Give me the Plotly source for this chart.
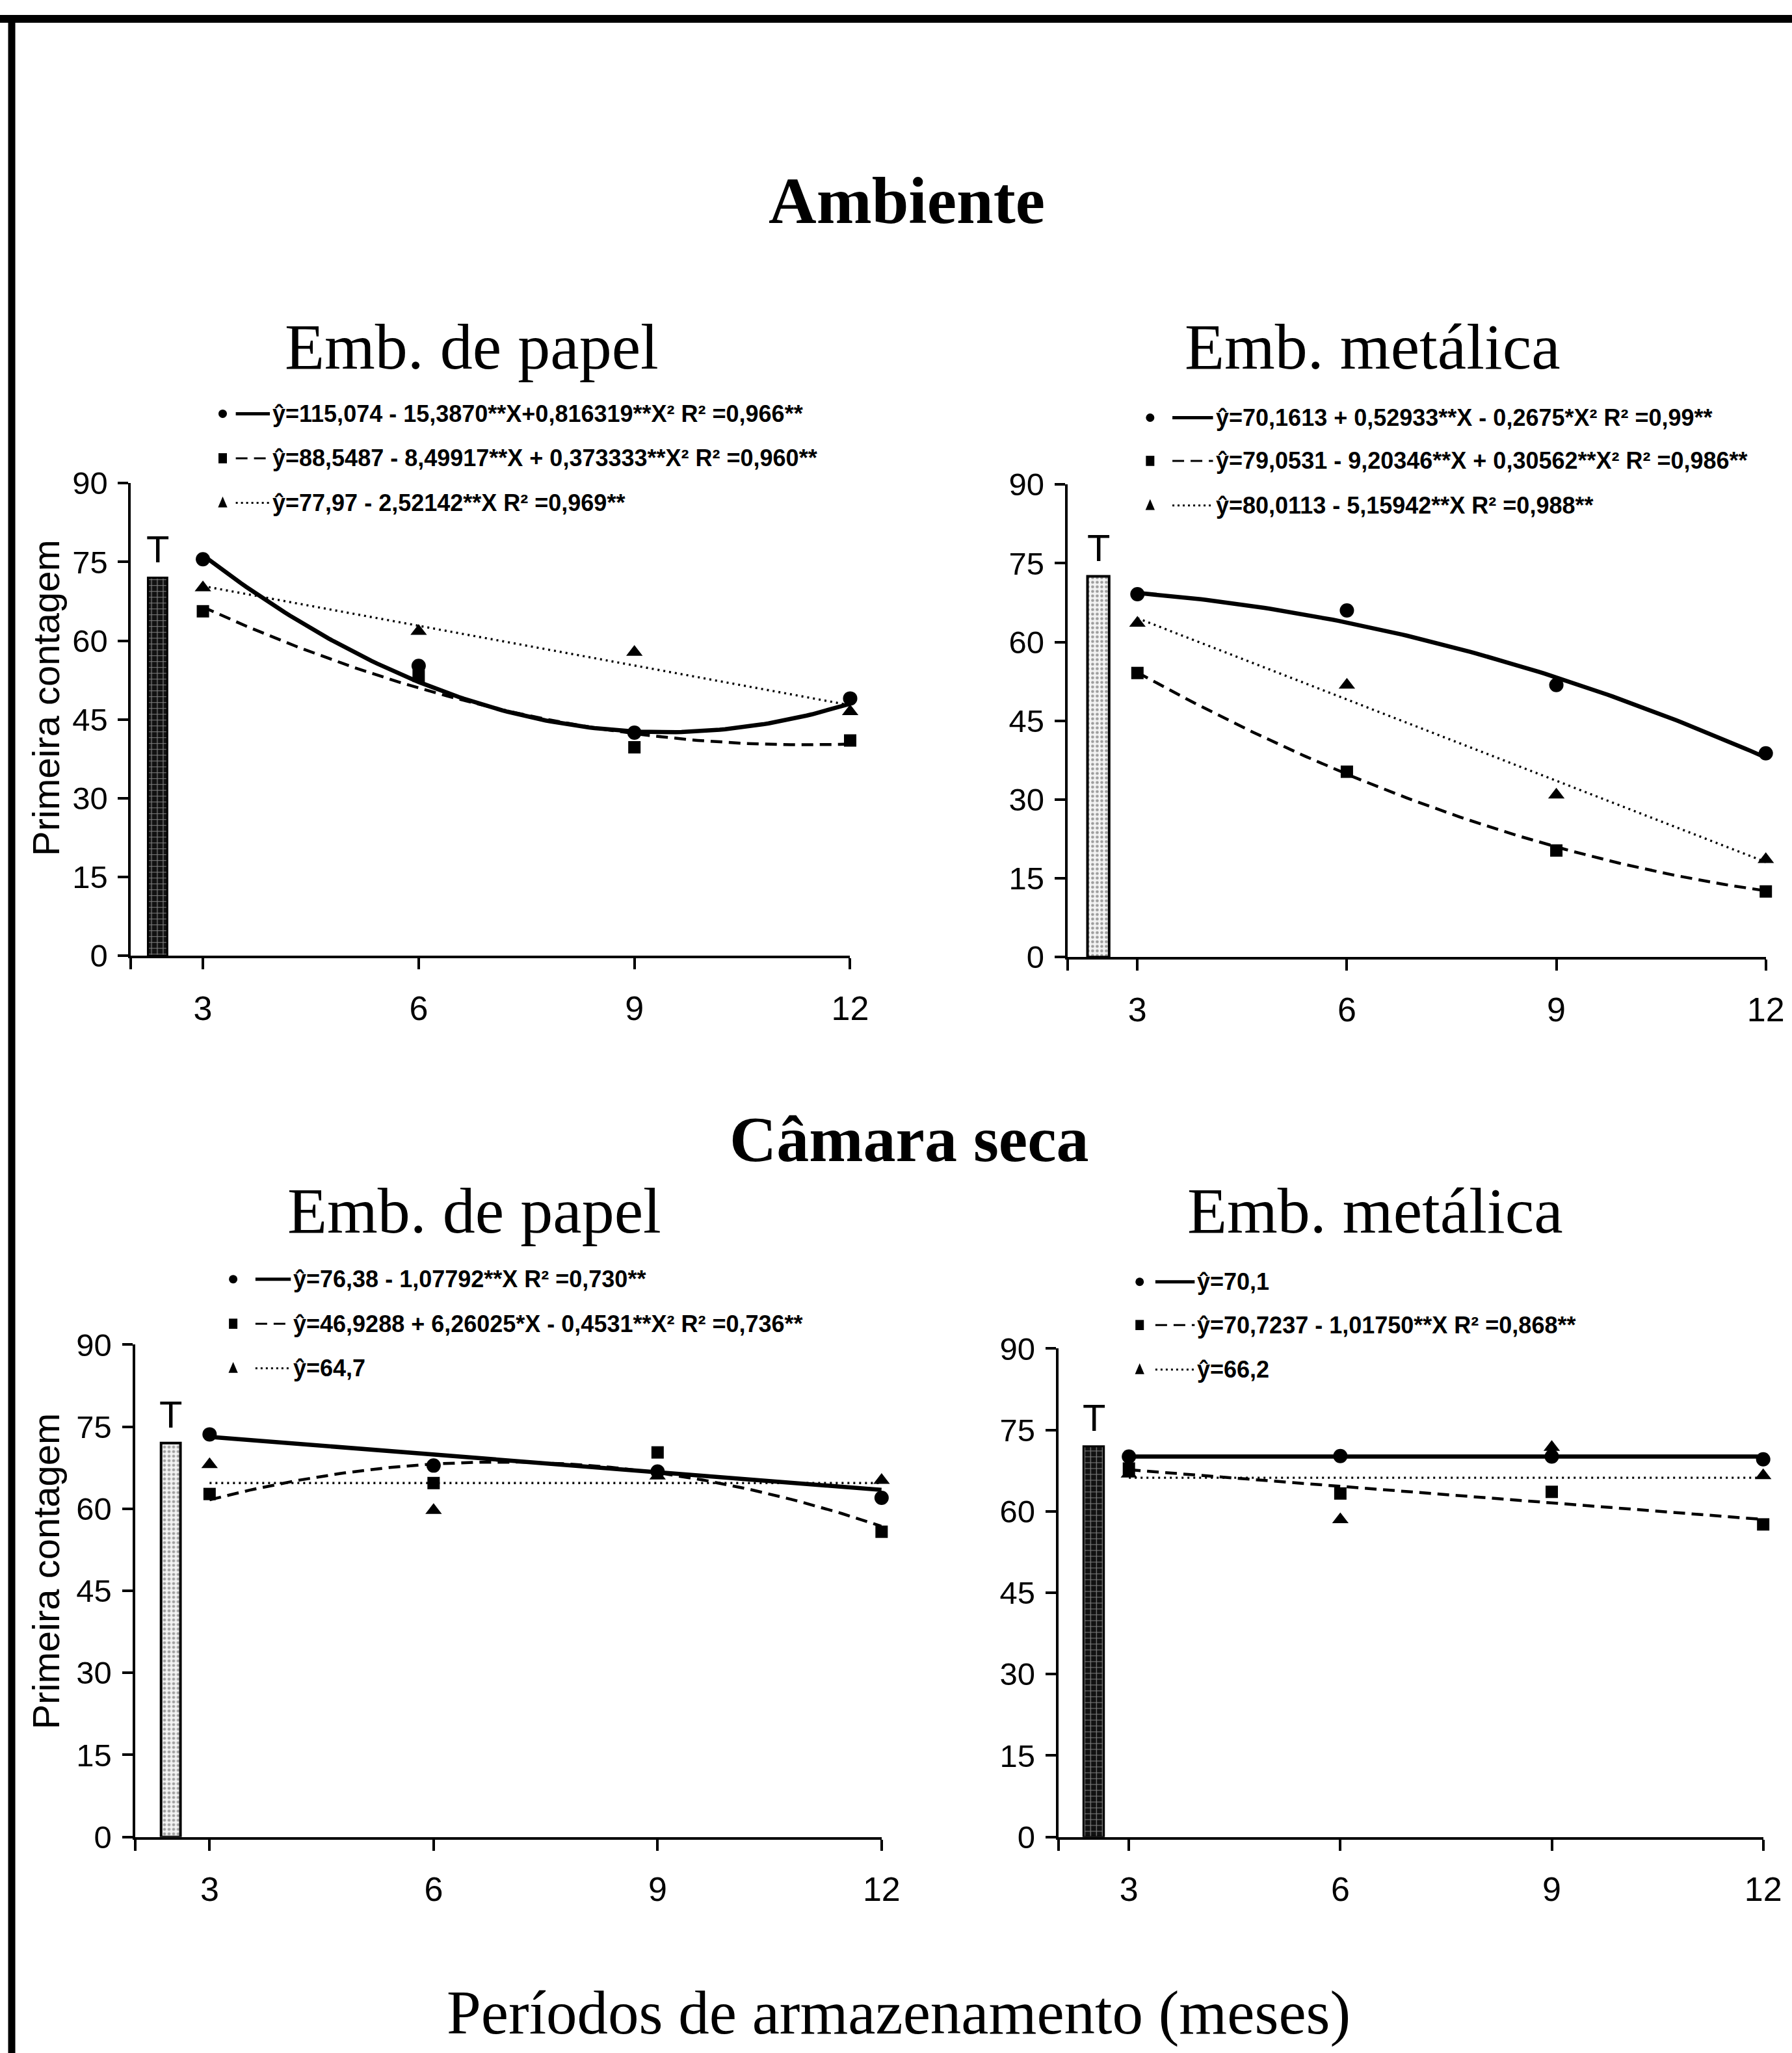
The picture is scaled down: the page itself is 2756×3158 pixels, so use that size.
import numpy as np
import plotly.graph_objects as go

# ---------------- data ----------------
months = [3, 6, 9, 12]
tick_vals_x = [2, 3, 6, 9, 12]
tick_text_x = ["", "3", "6", "9", "12"]
tick_vals_y = [0, 15, 30, 45, 60, 75, 90]

# Ambiente - Emb. de papel
amb_pap_circ = [75.5, 55.2, 42.5, 49.0]
amb_pap_squa = [65.6, 53.3, 39.7, 41.0]
amb_pap_tri = [70.1, 61.8, 57.8, 46.5]
amb_pap_fit_circ = [115.074, -15.3870, 0.816319]
amb_pap_fit_squa = [88.5487, -8.49917, 0.373333]
amb_pap_fit_tri = [77.97, -2.52142]
amb_pap_T = 72.0

# Ambiente - Emb. metalica
amb_met_circ = [69.1, 66.0, 51.8, 38.8]
amb_met_squa = [54.1, 35.3, 20.3, 12.5]
amb_met_tri = [63.6, 51.8, 30.9, 18.6]
amb_met_fit_circ = [70.1613, 0.52933, -0.2675]
amb_met_fit_squa = [79.0531, -9.20346, 0.30562]
amb_met_fit_tri = [80.0113, -5.15942]
amb_met_T = 72.5

# Camara seca - Emb. de papel
cam_pap_circ = [73.6, 67.9, 66.8, 62.0]
cam_pap_squa = [62.7, 64.7, 70.3, 55.8]
cam_pap_tri = [68.1, 59.7, 66.0, 65.2]
cam_pap_fit_circ = [76.38, -1.07792]
cam_pap_fit_squa = [46.9288, 6.26025, -0.4531]
cam_pap_fit_tri = [64.7]
cam_pap_T = 72.0

# Camara seca - Emb. metalica
cam_met_circ = [70.1, 70.2, 70.1, 69.6]
cam_met_squa = [67.9, 63.3, 63.6, 57.6]
cam_met_tri = [66.9, 58.5, 71.8, 66.6]
cam_met_fit_circ = [70.1]
cam_met_fit_squa = [70.7237, -1.01750]
cam_met_fit_tri = [66.2]
cam_met_T = 72.0

legend_amb_pap = ["ŷ=115,074 - 15,3870**X+0,816319**X² R² =0,966**",
                  "ŷ=88,5487 - 8,49917**X + 0,373333**X² R² =0,960**",
                  "ŷ=77,97 - 2,52142**X R² =0,969**"]
legend_amb_met = ["ŷ=70,1613 + 0,52933**X - 0,2675*X² R² =0,99**",
                  "ŷ=79,0531 - 9,20346**X + 0,30562**X² R² =0,986**",
                  "ŷ=80,0113 - 5,15942**X R² =0,988**"]
legend_cam_pap = ["ŷ=76,38 - 1,07792**X R² =0,730**",
                  "ŷ=46,9288 + 6,26025*X - 0,4531**X² R² =0,736**",
                  "ŷ=64,7"]
legend_cam_met = ["ŷ=70,1",
                  "ŷ=70,7237 - 1,01750**X R² =0,868**",
                  "ŷ=66,2"]

# ---------------- layout helpers ----------------
W, H = 2756, 3158
OW, OH = 1368.0, 1568.0  # working reference frame


def px(x):
    return x / OW


def py(y):
    return 1 - y / OH


SERIF = "Liberation Serif, Times New Roman, serif"
SANS = "Liberation Sans, Arial, sans-serif"

panels = [
    dict(circ=amb_pap_circ, squa=amb_pap_squa, tri=amb_pap_tri,
         fc=amb_pap_fit_circ, fs=amb_pap_fit_squa, ft=amb_pap_fit_tri,
         T=amb_pap_T, Tx=2.37, Tw=0.27, dark=True,
         xdom=[px(100), px(649)], ydom=[py(730), py(369)],
         leg=legend_amb_pap, lx=(170, 180, 206, 207), ly=(316, 350, 384)),
    dict(circ=amb_met_circ, squa=amb_met_squa, tri=amb_met_tri,
         fc=amb_met_fit_circ, fs=amb_met_fit_squa, ft=amb_met_fit_tri,
         T=amb_met_T, Tx=2.44, Tw=0.31, dark=False,
         xdom=[px(815), px(1348)], ydom=[py(731), py(370)],
         leg=legend_amb_met, lx=(878, 895, 926, 927), ly=(319, 352, 386)),
    dict(circ=cam_pap_circ, squa=cam_pap_squa, tri=cam_pap_tri,
         fc=cam_pap_fit_circ, fs=cam_pap_fit_squa, ft=cam_pap_fit_tri,
         T=cam_pap_T, Tx=2.48, Tw=0.26, dark=False,
         xdom=[px(103), px(673)], ydom=[py(1403), py(1027)],
         leg=legend_cam_pap, lx=(178, 195, 222, 223), ly=(977, 1011, 1045)),
    dict(circ=cam_met_circ, squa=cam_met_squa, tri=cam_met_tri,
         fc=cam_met_fit_circ, fs=cam_met_fit_squa, ft=cam_met_fit_tri,
         T=cam_met_T, Tx=2.5, Tw=0.29, dark=True,
         xdom=[px(808), px(1346)], ydom=[py(1403), py(1030)],
         leg=legend_cam_met, lx=(870, 882, 912, 913), ly=(979, 1012, 1046)),
]

fig = go.Figure()
layout = dict(
    width=W, height=H, autosize=False,
    margin=dict(l=0, r=0, t=0, b=0, pad=0, autoexpand=False),
    paper_bgcolor="white", plot_bgcolor="white",
    showlegend=False,
)
annotations = []
shapes = []

xfine = np.linspace(3, 12, 120)
styles = [
    ("circle", "solid", 6.5, 22),
    ("square", "dash", 4.5, 19),
    ("triangle-up", "dot", 3.4, 22),
]
dash_map = {"solid": "solid", "dash": "18px,10px", "dot": "3px,6px"}

for i, p in enumerate(panels, start=1):
    xa = "x" if i == 1 else f"x{i}"
    ya = "y" if i == 1 else f"y{i}"
    xkey = "xaxis" if i == 1 else f"xaxis{i}"
    ykey = "yaxis" if i == 1 else f"yaxis{i}"

    # T bar
    if p["dark"]:
        mk = dict(color="#111111",
                  pattern=dict(shape="+", bgcolor="#111111", fgcolor="#f0f0f0",
                               size=9, solidity=0.25),
                  line=dict(color="black", width=3))
    else:
        mk = dict(color="white",
                  pattern=dict(shape=".", bgcolor="#f4f4f4", fgcolor="#444444",
                               size=7, solidity=0.35),
                  line=dict(color="black", width=4))
    fig.add_trace(go.Bar(x=[p["Tx"]], y=[p["T"]], width=[p["Tw"]], marker=mk,
                         cliponaxis=False, xaxis=xa, yaxis=ya))
    annotations.append(dict(text="T", xref=xa, yref=ya, x=p["Tx"], y=p["T"],
                            xanchor="center", yanchor="bottom", yshift=10,
                            showarrow=False,
                            font=dict(family=SANS, size=58, color="black")))

    series = [(p["circ"], p["fc"]), (p["squa"], p["fs"]), (p["tri"], p["ft"])]
    for (vals, coefs), (sym, dsh, lw, ms) in zip(series, styles):
        yfit = np.polynomial.polynomial.polyval(xfine, coefs)
        fig.add_trace(go.Scatter(x=xfine, y=yfit, mode="lines",
                                 line=dict(color="black", width=lw, dash=dash_map[dsh]),
                                 xaxis=xa, yaxis=ya, cliponaxis=False))
        fig.add_trace(go.Scatter(x=months, y=vals, mode="markers",
                                 marker=dict(symbol=sym, size=ms, color="black"),
                                 xaxis=xa, yaxis=ya, cliponaxis=False))

    layout[xkey] = dict(domain=p["xdom"], range=[2, 12], anchor=ya,
                        tickvals=tick_vals_x, ticktext=tick_text_x,
                        ticks="outside", ticklen=17, tickwidth=4, tickcolor="black",
                        showline=True, linewidth=4, linecolor="black",
                        showgrid=False, zeroline=False, ticklabelstandoff=15,
                        automargin=False,
                        tickfont=dict(family=SANS, size=52, color="black"))
    layout[ykey] = dict(domain=p["ydom"], range=[0, 90], anchor=xa,
                        tickvals=tick_vals_y,
                        ticks="outside", ticklen=16, tickwidth=4, tickcolor="black",
                        showline=True, linewidth=4, linecolor="black",
                        showgrid=False, zeroline=False, ticklabelstandoff=6,
                        automargin=False,
                        tickfont=dict(family=SANS, size=49, color="black"))

    # legend block
    mx, l0, l1, tx = p["lx"]
    for (sym, dsh, lw, ms), yy, txt in zip(styles, p["ly"], p["leg"]):
        cx, cy = px(mx), py(yy)
        rx, ry = 6.5 / W, 6.5 / H
        if sym == "circle":
            shapes.append(dict(type="circle", xref="paper", yref="paper",
                               x0=cx - rx, x1=cx + rx, y0=cy - ry, y1=cy + ry,
                               fillcolor="black", line=dict(width=0)))
        elif sym == "square":
            shapes.append(dict(type="rect", xref="paper", yref="paper",
                               x0=cx - rx, x1=cx + rx, y0=cy - ry * 1.2, y1=cy + ry * 1.2,
                               fillcolor="black", line=dict(width=0)))
        else:
            shapes.append(dict(type="path", xref="paper", yref="paper",
                               path=f"M {cx - rx*1.1} {cy - ry*1.1} L {cx + rx*1.1} {cy - ry*1.1} L {cx} {cy + ry*1.5} Z",
                               fillcolor="black", line=dict(width=0)))
        shapes.append(dict(type="line", xref="paper", yref="paper",
                           x0=px(l0), x1=px(l1), y0=cy, y1=cy,
                           line=dict(color="black", width=max(lw - 1.5, 3),
                                     dash=dash_map[dsh] if dsh != "dot" else "3px,5px")))
        annotations.append(dict(text=txt, xref="paper", yref="paper",
                                x=px(tx), y=cy, xanchor="left", yanchor="middle",
                                showarrow=False,
                                font=dict(family=SANS, size=36, color="black",
                                          weight="bold")))

# y-axis titles (left panels)
for yy in (533, 1200):
    annotations.append(dict(text="Primeira contagem", xref="paper", yref="paper",
                            x=px(35), y=py(yy), textangle=-90, showarrow=False,
                            xanchor="center", yanchor="middle",
                            font=dict(family=SANS, size=58, color="black")))

# titles
titles = [
    ("<b>Ambiente</b>", 692, 153, 102),
    ("Emb. de papel", 360, 265, 100),
    ("Emb. metálica", 1048, 265, 100),
    ("<b>Câmara seca</b>", 694, 870, 100),
    ("Emb. de papel", 362, 925, 100),
    ("Emb. metálica", 1050, 925, 100),
    ("Períodos de armazenamento (meses)", 686, 1537, 95),
]
for txt, x, y, s in titles:
    annotations.append(dict(text=txt, xref="paper", yref="paper",
                            x=px(x), y=py(y), xanchor="center", yanchor="middle",
                            showarrow=False,
                            font=dict(family=SERIF, size=s, color="black")))

# frame lines (top and left)
shapes.append(dict(type="line", xref="paper", yref="paper", x0=0, x1=1,
                   y0=1 - 29 / H, y1=1 - 29 / H, line=dict(color="black", width=12)))
shapes.append(dict(type="line", xref="paper", yref="paper", x0=18 / W, x1=18 / W,
                   y0=0, y1=1 - 23 / H, line=dict(color="black", width=11)))

layout["annotations"] = annotations
layout["shapes"] = shapes
fig.update_layout(**layout)
fig.write_html(
    "out.html",
    config={"displayModeBar": False},
    post_script="document.body.style.margin='0px';document.body.style.overflow='hidden';",
)
